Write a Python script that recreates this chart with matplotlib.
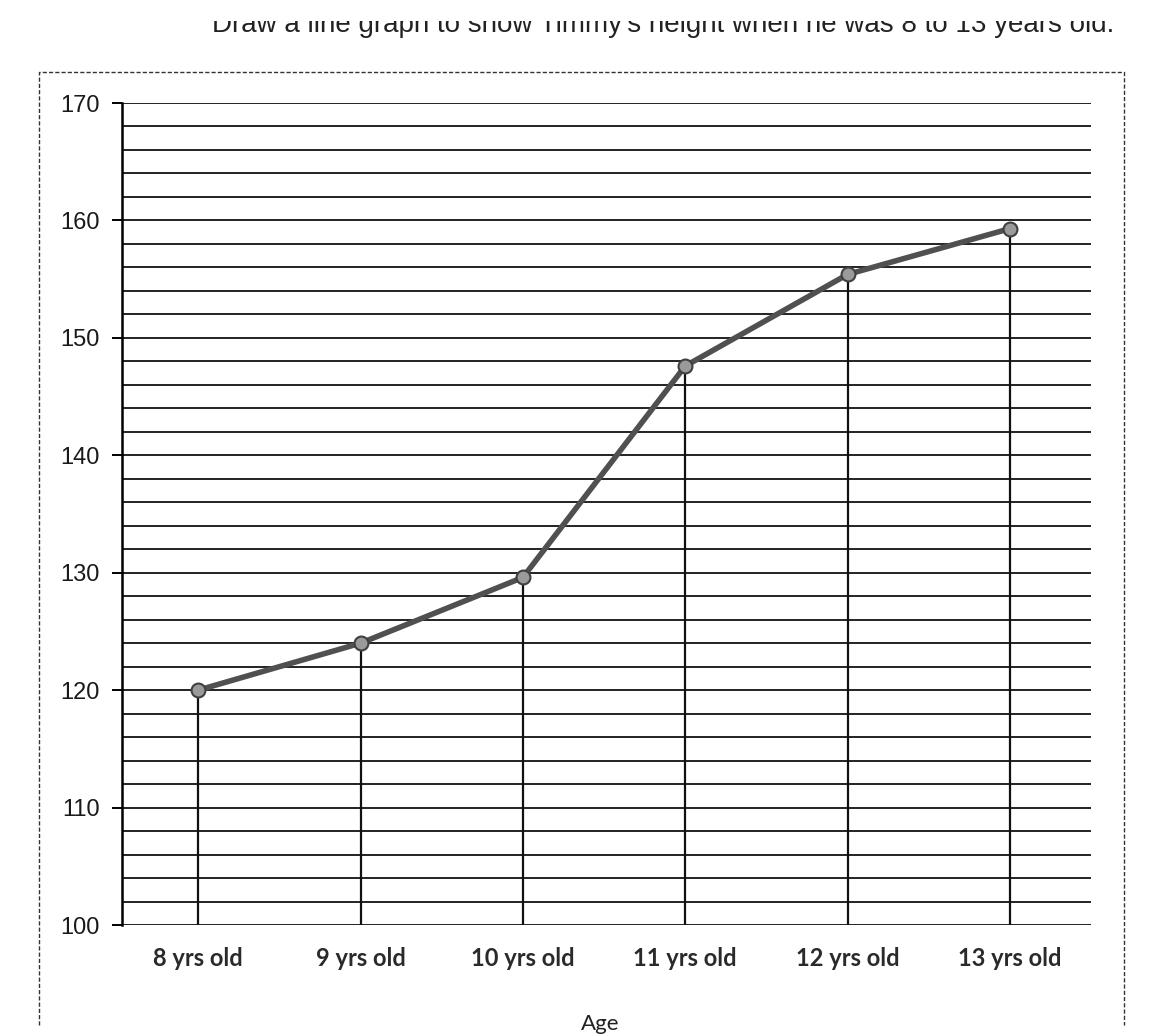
import matplotlib.pyplot as plt
from matplotlib.lines import Line2D
from matplotlib.patches import Rectangle
import numpy as np

ages = ['8 yrs old', '9 yrs old', '10 yrs old', '11 yrs old', '12 yrs old', '13 yrs old']
heights = [120, 124, 129.6, 147.6, 155.4, 159.3]
y_major = [100, 110, 120, 130, 140, 150, 160, 170]
y_grid = np.arange(100, 171, 2)

W, H = 1157, 1035
fig = plt.figure(figsize=(W / 100, H / 100), dpi=100)
fig.patch.set_facecolor('white')

# chart area
ax = fig.add_axes([122 / W, 1 - 925 / H, (1091 - 122) / W, (925 - 103) / H])
x = np.arange(len(ages))

for g in y_grid:
    ax.axhline(g, color='#111111', lw=1.3, zorder=1)

# drop lines from points down to the axis
ax.vlines(x, 100, heights, color='#111111', lw=1.6, zorder=2)

ax.plot(x, heights, color='#505050', lw=4, zorder=3,
        marker='o', markersize=10, markerfacecolor='#9a9a9a',
        markeredgecolor='#404040', markeredgewidth=1.5)

ax.set_xlim(-0.47, 5.5)
ax.set_ylim(100, 170)
ax.set_yticks(y_major)
ax.set_yticklabels([str(v) for v in y_major], fontsize=17, family='Liberation Sans', color='#1a1a1a')
ax.set_xticks(x)
ax.set_xticklabels(ages, fontsize=17, family='Lato', fontweight='bold', color='#2a2a2a')
ax.tick_params(axis='y', length=7, width=1.4, pad=9, direction='out')
ax.tick_params(axis='x', length=0, pad=16)

for s in ['top', 'right', 'bottom']:
    ax.spines[s].set_visible(False)
ax.spines['left'].set_linewidth(1.8)

# dashed outer frame (left, top, right; bottom is cut off)
fx = [39 / W, 39 / W, 1124 / W, 1124 / W]
fy = [1 - 1025 / H, 1 - 72 / H, 1 - 72 / H, 1 - 1025 / H]
fig.add_artist(Line2D(fx, fy, transform=fig.transFigure, color='#333333',
                      lw=1.0, linestyle=(0, (3, 1.5))))

# instruction line above the chart, top half cut off in the scan
t = fig.text(1114 / W, 1 - 32 / H,
             "Draw a line graph to show Timmy's height when he was 8 to 13 years old.",
             ha='right', va='baseline', fontsize=20, family='Liberation Sans', color='#222222')
t.set_clip_path(Rectangle((0, 0), 1, 1 - 21 / H, transform=fig.transFigure))

# axis title at the very bottom edge
fig.text(600 / W, 1 - 1034 / H, 'Age', ha='center', va='bottom', fontsize=16,
         family='Lato', color='#222222')

fig.savefig('out.png', dpi=100)
